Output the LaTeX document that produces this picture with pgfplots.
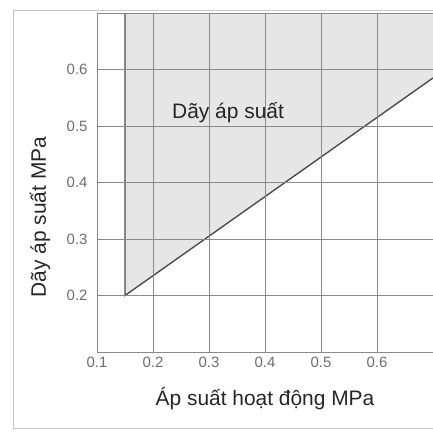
\documentclass[border=0pt]{standalone}
\usepackage{fontspec}
\setmainfont{Liberation Sans}
\usepackage{pgfplots}
\pgfplotsset{compat=1.18}
\definecolor{gridc}{HTML}{8A8A8A}
\definecolor{shade}{HTML}{E6E6E6}
\definecolor{tickc}{HTML}{6E6E6E}
\begin{document}
\begin{tikzpicture}[x=1bp,y=1bp]
\path[use as bounding box] (0,0) rectangle (433,433);
\draw[gray!45, line width=0.8pt] (440,423) -- (13,423) -- (13,5) -- (440,5);
\begin{axis}[
  at={(97bp,81bp)}, anchor=south west,
  scale only axis, width=336bp, height=339bp,
  xmin=0.1, xmax=0.7, ymin=0.1, ymax=0.7,
  axis lines=left,
  x axis line style={-, gridc, line width=0.8pt},
  y axis line style={-, gridc, line width=0.8pt},
  xtick={0.1,0.2,0.3,0.4,0.5,0.6,0.7},
  xticklabels={0.1,0.2,0.3,0.4,0.5,0.6,},
  ytick={0.1,0.2,0.3,0.4,0.5,0.6,0.7},
  yticklabels={,0.2,0.3,0.4,0.5,0.6,},
  major tick length=0pt,
  grid=major,
  grid style={gridc, line width=0.9pt},
  axis on top,
  /pgf/number format/assume math mode=true,
  tick label style={font=\fontsize{15}{17}\selectfont, text=tickc},
  xticklabel style={yshift=-2bp},
  yticklabel style={xshift=-6bp},
  clip=true,
]
\addplot[fill=shade, draw=none] coordinates {(0.15,0.2) (0.7,0.585) (0.7,0.7) (0.15,0.7)} -- cycle;
\addplot[draw=black!70, line width=1.4pt] coordinates {(0.15,0.7) (0.15,0.2) (0.7,0.585)};
\node[font=\fontsize{21}{24}\selectfont, text=black!85] at (axis cs:0.334,0.523) {Dãy áp suất};
\end{axis}
\node[font=\fontsize{21}{24}\selectfont, text=black!85] at (265,34) {Áp suất hoạt động MPa};
\node[font=\fontsize{21}{24}\selectfont, text=black!85, rotate=90] at (40,216) {Dãy áp suất MPa};
\end{tikzpicture}
\end{document}
